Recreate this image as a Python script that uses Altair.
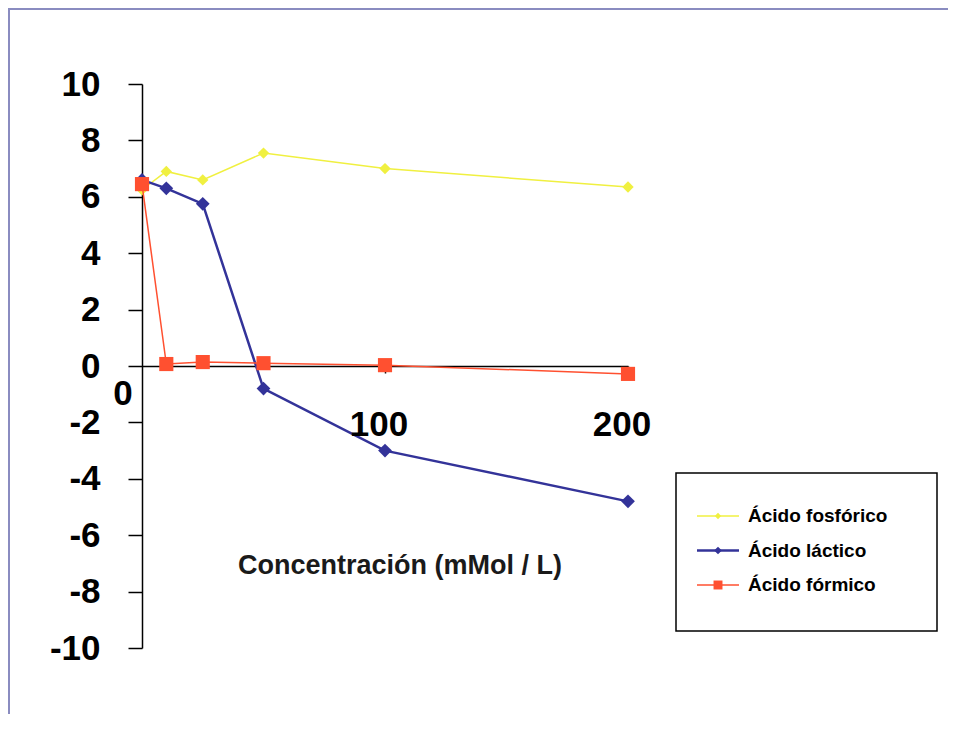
import altair as alt
import pandas as pd

# ---- data ----
x_vals = [0, 10, 25, 50, 100, 200]
fosforico = [6.25, 6.9, 6.6, 7.55, 7.0, 6.35]
lactico = [6.6, 6.3, 5.75, -0.8, -3.0, -4.8]
formico = [6.45, 0.07, 0.14, 0.1, 0.03, -0.28]

series_names = ["Ácido fosfórico", "Ácido láctico", "Ácido fórmico"]
series_values = [fosforico, lactico, formico]
series_colors = ["#f0f040", "#333399", "#ff5030"]
series_shapes = ["diamond", "diamond", "square"]
series_sizes = [130, 190, 200]
series_widths = [1.5, 2.5, 1.5]
legend_sizes = [40, 60, 80]

y_ticks = [-10, -8, -6, -4, -2, 0, 2, 4, 6, 8, 10]
x_ticks = [100, 200]
x_label_vals = [0, 100, 200]
x_label_txt = ["0", "100", "200"]
x_title = "Concentración (mMol / L)"

FONT = "Liberation Sans"
W, H = 486, 564

xs = alt.Scale(domain=[0, 200], nice=False, zero=False)
ys = alt.Scale(domain=[-10, 10], nice=False, zero=False)

layers = []

# base with axes
base_df = pd.DataFrame({"x": [0, 200], "y": [0, 0]})
axes = alt.Chart(base_df).mark_point(opacity=0).encode(
    x=alt.X("x:Q", scale=xs, axis=alt.Axis(
        values=x_ticks, labels=False, title=None, grid=False, offset=-282,
        domainColor="black", domainWidth=1.5, tickColor="black", tickSize=7, tickWidth=1.5)),
    y=alt.Y("y:Q", scale=ys, axis=alt.Axis(
        values=y_ticks, title=None, grid=False, domainColor="black", domainWidth=1.5,
        tickColor="black", tickSize=14, tickWidth=1.5, labelFont=FONT, labelFontSize=35,
        labelFontWeight="bold", labelColor="black", labelPadding=28, labelAlign="right",
        labelBaseline="middle", labelFlush=False, labelExpr="toString(datum.value)")),
)
layers.append(axes)

for name, vals, col, shp, sz, sw in zip(series_names, series_values, series_colors,
                                         series_shapes, series_sizes, series_widths):
    df = pd.DataFrame({"x": x_vals, "y": vals, "serie": name})
    line = alt.Chart(df).mark_line(color=col, strokeWidth=sw).encode(
        x=alt.X("x:Q", scale=xs), y=alt.Y("y:Q", scale=ys))
    pts = alt.Chart(df).mark_point(shape=shp, filled=True, size=sz, color=col, opacity=1).encode(
        x=alt.X("x:Q", scale=xs), y=alt.Y("y:Q", scale=ys))
    layers += [line, pts]

# x tick labels (Excel-like placement)
lab_df = pd.DataFrame({"x": x_label_vals, "t": x_label_txt})
lab0 = alt.Chart(lab_df[lab_df.x == 0]).mark_text(
    font=FONT, fontSize=35, fontWeight="bold", color="black", dx=-19, dy=28,
    align="center", baseline="middle").encode(
    x=alt.X("x:Q", scale=xs), y=alt.datum(0, scale=ys), text="t:N")
labn = alt.Chart(lab_df[lab_df.x > 0]).mark_text(
    font=FONT, fontSize=35, fontWeight="bold", color="black", dx=-6, dy=59,
    align="center", baseline="middle").encode(
    x=alt.X("x:Q", scale=xs), y=alt.datum(0, scale=ys), text="t:N")
layers += [lab0, labn]

# x axis title
title_df = pd.DataFrame({"t": [x_title]})
layers.append(alt.Chart(title_df).mark_text(
    font=FONT, fontSize=27, fontWeight="bold", color="#1a1a1a", align="center",
    baseline="middle").encode(
    x=alt.value(258), y=alt.value(482), text="t:N"))

# legend box
layers.append(alt.Chart(title_df).mark_rect(fill="white", stroke="black", strokeWidth=1.5).encode(
    x=alt.value(534), x2=alt.value(795), y=alt.value(389), y2=alt.value(547)))

for i, (name, col, shp, lsz, sw) in enumerate(zip(series_names, series_colors, series_shapes,
                                                  legend_sizes, series_widths)):
    yy = 432 + i * 34.5
    ldf = pd.DataFrame({"serie": [name]})
    layers.append(alt.Chart(ldf).mark_rule(color=col, strokeWidth=sw).encode(
        x=alt.value(555), x2=alt.value(597), y=alt.value(yy)))
    layers.append(alt.Chart(ldf).mark_point(shape=shp, filled=True, size=lsz, color=col, opacity=1).encode(
        x=alt.value(576), y=alt.value(yy)))
    layers.append(alt.Chart(ldf).mark_text(font=FONT, fontSize=19, fontWeight="bold", color="black",
                                           align="left", baseline="middle").encode(
        x=alt.value(606), y=alt.value(yy), text="serie:N"))

# outer frame (top and left edges)
layers.append(alt.Chart(title_df).mark_rule(color="#8a8cc0", strokeWidth=2).encode(
    x=alt.value(-134), x2=alt.value(806), y=alt.value(-75)))
layers.append(alt.Chart(title_df).mark_rule(color="#8a8cc0", strokeWidth=2).encode(
    x=alt.value(-133), y=alt.value(-75), y2=alt.value(630)))

chart = alt.layer(*layers).properties(
    width=W, height=H,
    autosize=alt.AutoSizeParams(type="none"),
    padding={"left": 134, "top": 76, "right": 320, "bottom": 74},
    background="white",
).configure_view(stroke=None)

chart.save("out.html", embed_options={"renderer": "svg", "actions": False})
